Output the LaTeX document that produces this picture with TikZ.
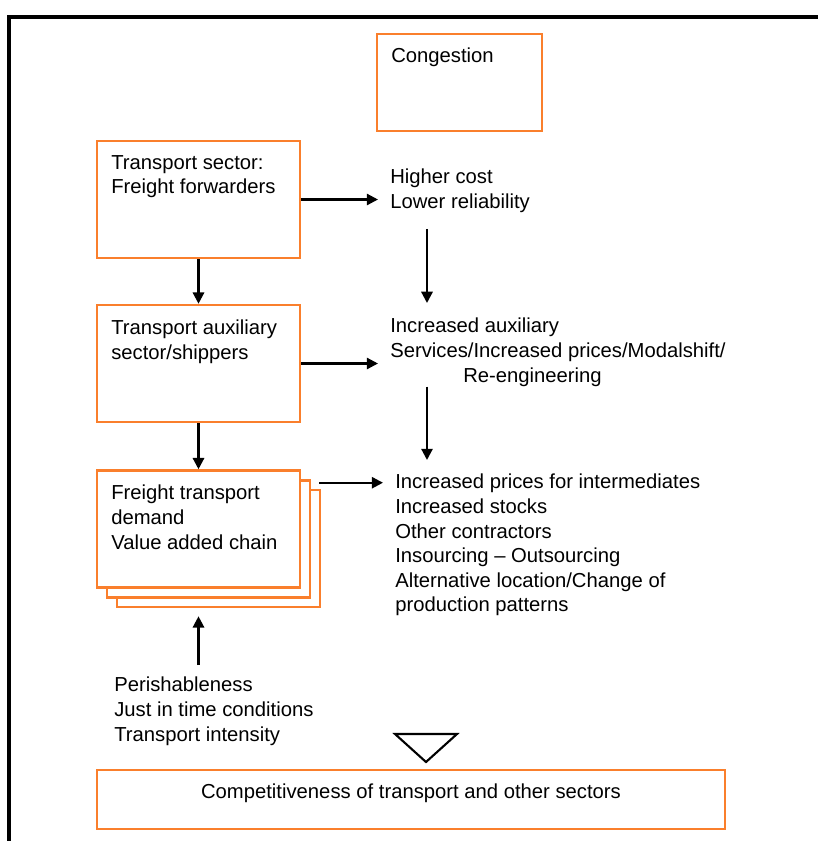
\documentclass[tikz,border=0pt]{standalone}
\usepackage{fontspec}
\setmainfont{Liberation Sans}
\usepackage{tikz}
\usetikzlibrary{arrows.meta, positioning, calc}
\definecolor{boxorange}{HTML}{FA7F2C}

\begin{document}
\begin{tikzpicture}[x=0.025cm, y=-0.025cm,
    box/.style={rectangle, draw=boxorange, fill=white, line width=1.8pt,
                minimum width=5.075cm, minimum height=2.925cm, inner sep=0pt},
    txt/.style={anchor=north west, align=left, inner sep=0pt,
                font=\fontsize{14.4}{17.45}\selectfont},
    arr/.style={-{Triangle[length=8pt, width=8pt]}, line width=1.6pt, black}
]
\useasboundingbox (0,0) rectangle (818,841);
% frame
\draw[line width=2.2pt] (9,841) -- (9,17) -- (818,17);

% boxes
\node[box, minimum width=4.125cm, minimum height=2.425cm] (cong) at (459.5,82.5) {};
\node[box] (ts) at (198.5,199.5) {};
\node[box] (ta) at (198.5,363.5) {};
\node[box] (fdc) at (218.5,548.5) {};
\node[box] (fdb) at (208.5,539) {};
\node[box] (fd) at (198.5,529) {};
\node[box, minimum width=15.7cm, minimum height=1.475cm] (comp) at (411,799.5) {};

% texts
\node[txt] (congt) at (391,48) {Congestion};
\node[txt] (tst) at (111,155) {Transport sector:\\Freight forwarders};
\node[txt] (hc) at (390,169) {Higher cost\\Lower reliability};
\node[txt] (tat) at (111,320) {Transport auxiliary\\sector/shippers};
\node[txt] (ia) at (390,318) {Increased auxiliary\\Services/Increased prices/Modalshift/\\\hspace*{1.825cm}Re-engineering};
\node[txt] (fdt) at (111,485) {Freight transport\\demand\\Value added chain};
\node[txt] (ip) at (395,474) {Increased prices for intermediates\\Increased stocks\\Other contractors\\Insourcing -- Outsourcing\\Alternative location/Change of\\production patterns};
\node[txt] (pe) at (114,677) {Perishableness\\Just in time conditions\\Transport intensity};
\node[txt, anchor=center] (compt) at (411,793) {Competitiveness of transport and other sectors};

% arrows
\coordinate (col) at (427,0);
\coordinate (fdout) at ($(fdc.north east)+(-2,-6)$);
\path (fd.south |- pe.north) ++(0,-12) coordinate (peup);

\draw[arr, shorten >=0.3cm] (ts.east) -- (ts.east -| hc.west);
\draw[arr, shorten <=0.4cm, shorten >=0.375cm] (hc.south -| col) -- (ia.north -| col);
\draw[arr] (ts) -- (ta);
\draw[arr, shorten >=0.3cm] (ta.east) -- (ta.east -| ia.west);
\draw[arr, shorten >=0.35cm] (ia.south -| col) -- (ip.north -| col);
\draw[arr] (ta) -- (fd);
\draw[arr, shorten >=0.3cm] (fdout) -- (fdout -| ip.west);
\draw[arr, shorten >=0.2cm] (peup) -- (fd.south |- fdc.south);

% triangle
\draw[line width=1.5pt] (395,734) -- (457,734) -- (426,762) -- cycle;
\end{tikzpicture}
\end{document}
